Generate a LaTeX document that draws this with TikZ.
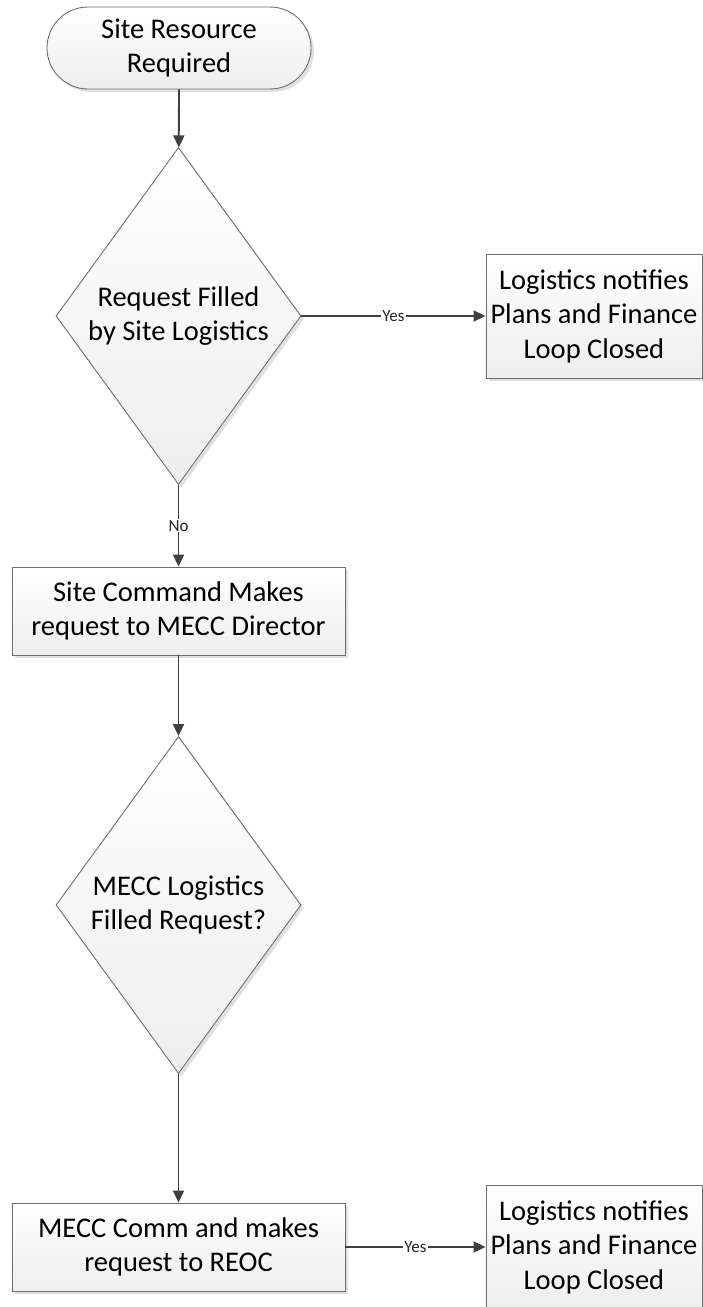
\documentclass[tikz,border=0pt]{standalone}
\usepackage{fontspec}
\setmainfont{Carlito}
\usetikzlibrary{shapes.geometric,shapes.misc,arrows.meta,shadows}
\definecolor{edge}{HTML}{6E6E6E}
\definecolor{arrowc}{HTML}{404040}
\definecolor{fillb}{HTML}{EEEEEE}
\tikzset{
  base/.style={draw=edge, line width=0.9pt, top color=white, bottom color=fillb,
    drop shadow={shadow xshift=3pt, shadow yshift=-3pt, fill=black!30, opacity=0.4},
    align=center, font=\fontsize{28.5}{34.5}\selectfont, inner sep=0pt},
  term/.style={base, rounded rectangle, minimum width=264pt, minimum height=82pt},
  procbox/.style={base, rectangle, minimum width=333pt, minimum height=88pt},
  endbox/.style={base, rectangle, minimum width=216pt, minimum height=124pt},
  decision/.style={base, diamond, aspect=0.727, minimum width=245pt, minimum height=337pt},
  flow/.style={draw=arrowc, line width=1.8pt, -{Triangle[length=12pt,width=11pt]}},
  lbl/.style={fill=white, font=\fontsize{17}{20}\selectfont, inner sep=1pt, text=black!85}
}
\begin{document}
\begin{tikzpicture}[x=1pt,y=-1pt]
\useasboundingbox (0,0) rectangle (703,1307);
\clip (0,0) rectangle (703,1307);
\node[term] (start) at (179,48) {Site Resource\\Required};
\node[decision] (d1) at (178.5,316) {Request Filled\\by Site Logistics};
\node[endbox] (e1) at (594,316) {Logistics notifies\\Plans and Finance\\Loop Closed};
\node[procbox] (b2) at (178.5,611) {Site Command Makes\\request to MECC Director};
\node[decision] (d2) at (178.5,905) {MECC Logistics\\Filled Request?};
\node[procbox] (b3) at (178.5,1247) {MECC Comm and makes\\request to REOC};
\node[endbox] (e2) at (594,1247) {Logistics notifies\\Plans and Finance\\Loop Closed};

\draw[flow] (start) -- (d1);
\draw[flow] (d1) -- node[lbl] {Yes} (e1);
\draw[flow] (d1) -- node[lbl] {No} (b2);
\draw[flow] (b2) -- (d2);
\draw[flow] (d2) -- (b3);
\draw[flow] (b3) -- node[lbl] {Yes} (e2);
\end{tikzpicture}
\end{document}
